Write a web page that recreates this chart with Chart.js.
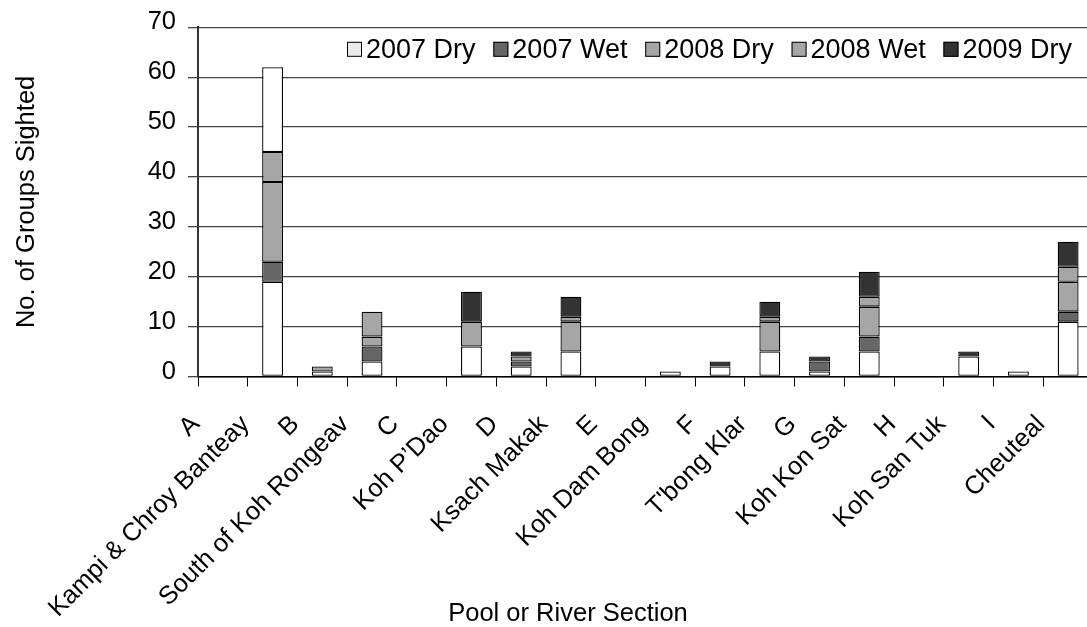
<!DOCTYPE html>
<html><head><meta charset="utf-8">
<script src="https://cdn.jsdelivr.net/npm/chart.js@4.4.0/dist/chart.umd.min.js"></script>
<style>
html,body{margin:0;padding:0;overflow:hidden;background:#fff;}
#wrap{position:absolute;left:0;top:0;width:1100px;height:627px;}
</style></head><body>
<div id="wrap"><canvas id="c"></canvas></div>
<script>
const categories = ["A","Kampi & Chroy Banteay","B","South of Koh Rongeav","C","Koh P\u2019Dao","D","Ksach Makak","E","Koh Dam Bong","F","T'bong Klar","G","Koh Kon Sat","H","Koh San Tuk","I","Cheuteal"];
const dry2007 = [0,19,1,3,0,6,2,5,0,1,2,5,1,5,0,4,1,11];
const wet2007 = [0,4,0,3,0,0,1,0,0,0,0,0,2,3,0,0,0,2];
const dry2008 = [0,16,1,2,0,5,1,6,0,0,0,6,0,6,0,0,0,6];
const wet2008 = [0,6,0,5,0,0,0,1,0,0,0,1,0,2,0,0,0,3];
const dry2009 = [0,17,0,0,0,6,1,4,0,0,1,3,1,5,0,1,0,5];
const seriesLabels = ["2007 Dry","2007 Wet","2008 Dry","2008 Wet","2009 Dry"];
const whiteTopCategories = ["Kampi & Chroy Banteay"];
const yTicks = [0,10,20,30,40,50,60,70];
const xTitle = "Pool or River Section";
const yTitle = "No. of Groups Sighted";

const FONT = '"Liberation Sans", Arial, sans-serif';
const FS = 25.5;
const LEGEND_FS = 27;
const fontMain = {family: FONT, size: FS, lineHeight: 1.2};

function ds(label, data, color, legendColor){
  return {label, data, backgroundColor: color, legendColor: legendColor || color,
    borderColor:'#000', borderWidth:1.3, borderSkipped:false,
    barPercentage:0.42, categoryPercentage:1};
}

const overlay = {
  id:'overlay',
  afterDraw(chart){
    const {ctx, chartArea} = chart;
    ctx.save();
    ctx.font = LEGEND_FS + 'px ' + FONT;
    ctx.textBaseline = 'middle';
    const items = chart.data.datasets.map(d => ({label:d.label, color:d.legendColor}));
    const box = 15, gap = 4;
    const widths = items.map(it => box + gap + ctx.measureText(it.label).width);
    const left = chartArea.left + 149, right = chartArea.right - 21;
    const spacing = (right - left - widths.reduce((a,b)=>a+b,0)) / (items.length - 1);
    let x = left; const y = chartArea.top + 22;
    items.forEach((it,i) => {
      ctx.fillStyle = it.color; ctx.fillRect(x, y-7.5, box, box);
      ctx.strokeStyle = '#000'; ctx.lineWidth = 1; ctx.strokeRect(x+0.5, y-7, box-1, box-1);
      ctx.fillStyle = '#000'; ctx.textAlign = 'left';
      ctx.fillText(it.label, x + box + gap, y + 1);
      x += widths[i] + spacing;
    });
    ctx.font = FS + 'px ' + FONT;
    ctx.textAlign = 'center';
    ctx.fillText(xTitle, 568, 614);
    ctx.restore();
  }
};

new Chart(document.getElementById('c'), {
  type:'bar',
  data:{
    labels: categories,
    datasets:[
      ds(seriesLabels[0], dry2007, '#ffffff', '#ebebeb'),
      ds(seriesLabels[1], wet2007, '#666666'),
      ds(seriesLabels[2], dry2008, '#a6a6a6'),
      ds(seriesLabels[3], wet2008, '#a6a6a6'),
      ds(seriesLabels[4], dry2009, categories.map(c => whiteTopCategories.includes(c) ? '#ffffff' : '#333333'), '#333333')
    ]
  },
  options:{
    responsive:true, maintainAspectRatio:false, animation:false,
    layout:{padding:{left:0,right:7,top:27,bottom:0}},
    plugins:{legend:{display:false}, tooltip:{enabled:false}},
    scales:{
      x:{
        stacked:true,
        grid:{display:true, drawOnChartArea:false, drawTicks:true, tickLength:10, color:'#000', lineWidth:1, offset:true},
        border:{display:true, color:'#000', width:1.5},
        ticks:{autoSkip:false, maxRotation:45, minRotation:45, labelOffset:-27, padding:23, font:fontMain, color:'#000'},
        afterFit: s => { s.height = 250.5; s.paddingLeft = 0; s.paddingRight = 0; }
      },
      y:{
        stacked:true, min:0, max:70,
        afterBuildTicks: s => { s.ticks = yTicks.map(v => ({value:v})); },
        ticks:{padding:12, font:fontMain, color:'#000', labelOffset:-5},
        grid:{color:'#444', lineWidth:1.3, tickLength:10, drawTicks:true},
        border:{color:'#333', width:2},
        title:{display:true, text:yTitle, font:fontMain, color:'#000', padding:{top:11.7,bottom:0}},
        afterFit: s => { s.width = 198; }
      }
    }
  },
  plugins:[overlay]
});
</script>
</body></html>
